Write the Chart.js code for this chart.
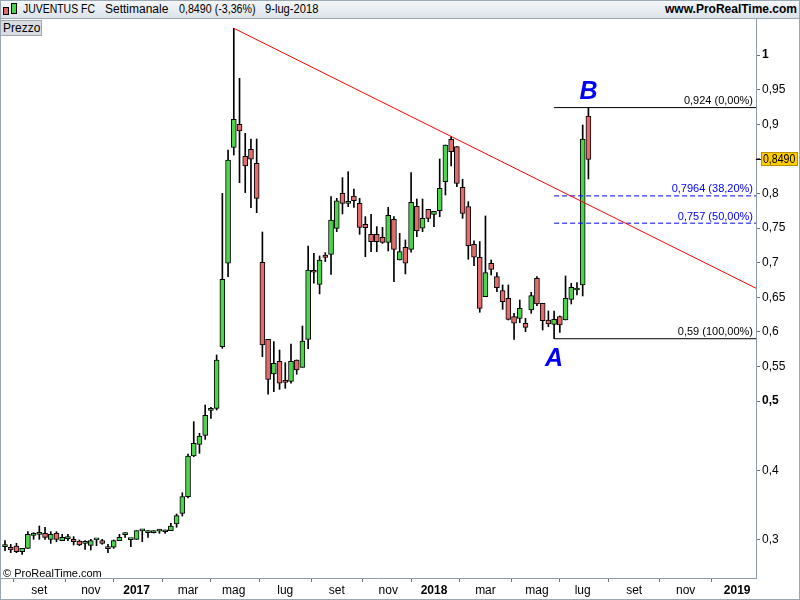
<!DOCTYPE html>
<html>
<head>
<meta charset="utf-8">
<script src="https://cdn.jsdelivr.net/npm/chart.js@4.4.1/dist/chart.umd.min.js"></script>
<style>
  html,body{margin:0;padding:0;background:#fff;}
  #wrap{position:relative;width:800px;height:600px;overflow:hidden;font-family:"Liberation Sans",Arial,sans-serif;}
  #c{position:absolute;left:0;top:0;}
  #hdr{position:absolute;left:0;top:0;width:800px;height:18px;background:linear-gradient(#f6f8fa,#dbe3ea);border-bottom:1px solid #9aa8b4;font-size:12px;color:#000;}
  #hdr span{position:absolute;top:2px;white-space:nowrap;transform-origin:left center;}
  .ic{position:absolute;width:4px;border:1px solid #000;}
  #prezzo{position:absolute;left:0;top:20px;width:38px;height:14px;background:#d9dde1;border:1px solid #a0a8b0;font-size:12px;line-height:14px;padding-left:2px;box-sizing:content-box;}
  #copy{position:absolute;left:3px;top:567px;font-size:11px;color:#000;}
  #frame{position:absolute;left:0;top:0;width:798px;height:598px;border:1px solid #9aa8b4;pointer-events:none;}
</style>
</head>
<body>
<div id="wrap">
  <canvas id="c" width="800" height="600"></canvas>
  <div id="hdr">
    <div class="ic" style="left:3px;top:7px;height:6px;background:#e06868;"></div>
    <div class="ic" style="left:11px;top:3px;height:9px;background:#50d050;"></div>
    <span style="left:23px;transform:scaleX(0.87);">JUVENTUS FC</span>
    <span style="left:105px;">Settimanale</span>
    <span style="left:179px;transform:scaleX(0.89);">0,8490 (-3,36%)</span>
    <span style="left:265px;transform:scaleX(0.93);">9-lug-2018</span>
    <span style="left:665px;font-weight:bold;">www.ProRealTime.com</span>
  </div>
  <div id="prezzo">Prezzo</div>
  <div id="copy">© ProRealTime.com</div>
  <div id="frame"></div>
</div>
<script>
// weekly candles, from 25-lug-2016 to 9-lug-2018 (index = week number)
const opens = [
  .2895,.2886,.2905,.2823,.2871,.3059,.3073,.3088,.3001,.3088,
  .2982,.3011,.3001,.2977,.2943,.2914,.2992,.2982,.2895,.2886,
  .2982,.3070,.2997,.3001,.3123,.3097,.3097,.3120,.3110,.3126,
  .3223,.3377,.3618,.4205,.4374,.4504,.4865,.4894,.5785,.6990,
  .8666,.8998,.8536,.8637,.8435,.7004,.5891,.5390,.5574,.5285,
  .5284,.5593,.5487,.5891,.6888,.6686,.7110,.7120,.7495,.8001,
  .7857,.7963,.7857,.7553,.7409,.7409,.7366,.7293,.7626,.7038,
  .7221,.7192,.7813,.7496,.7770,.7698,.7751,.8170,.8782,.8676,
  .8088,.7809,.7264,.7076,.6508,.6990,.6797,.6595,.6484,.6219,
  .6195,.6123,.6315,.6773,.6412,.6171,.6108,.6219,.6171,.6469,
  .6604,.6677,.9119
];
const highs = [
  .2982,.2929,.2943,.2871,.3112,.3097,.3194,.3175,.3112,.3112,
  .3073,.3073,.3040,.2992,.2982,.3001,.3001,.3001,.2929,.2992,
  .3073,.3097,.3001,.3126,.3136,.3126,.3126,.3146,.3136,.3232,
  .3367,.3675,.4234,.4702,.4533,.4942,.4909,.5665,.8001,.8627,
  1.0386,.9663,.8868,.8786,.8786,.7442,.5891,.5858,.5737,.5554,
  .5824,.5593,.6084,.7240,.7134,.7096,.7144,.7953,.7929,.8228,
  .8314,.8064,.7929,.7664,.7698,.7520,.7510,.7799,.7664,.7423,
  .7327,.8300,.7919,.7919,.7770,.7741,.8497,.8700,.8820,.8676,
  .8204,.7881,.7313,.7303,.7674,.7038,.6855,.6677,.6677,.6267,
  .6460,.6195,.6571,.6797,.6412,.6301,.6301,.6229,.6807,.6701,
  .6710,.8989,.9240
];
const lows = [
  .2837,.2808,.2808,.2784,.2871,.3001,.3001,.3001,.2943,.2967,
  .2982,.2982,.2919,.2910,.2857,.2847,.2910,.2929,.2808,.2871,
  .2982,.3030,.2895,.3001,.2967,.3030,.3092,.3088,.3088,.3126,
  .3175,.3338,.3600,.4196,.4244,.4446,.4750,.4870,.5761,.6797,
  .8555,.8155,.8011,.7794,.7722,.5641,.5097,.5135,.5169,.5183,
  .5256,.5386,.5487,.5757,.6701,.6547,.7014,.6831,.7447,.7703,
  .7809,.7799,.7409,.7086,.7158,.7158,.7279,.7168,.6725,.7038,
  .6836,.7149,.7375,.7447,.7592,.7520,.7664,.7977,.8396,.8098,
  .7640,.7048,.6956,.6282,.6508,.6821,.6580,.6325,.6171,.5891,
  .6132,.6002,.6267,.6378,.6026,.6074,.5900,.5992,.6171,.6402,
  .6532,.6518,.8208
];
const closes = [
  .2900,.2847,.2823,.2871,.3073,.3064,.3078,.3030,.3073,.3001,
  .3030,.3014,.2967,.2919,.2946,.2982,.2997,.2943,.2866,.2982,
  .3030,.3073,.3001,.3126,.3126,.3100,.3100,.3124,.3112,.3194,
  .3343,.3618,.4205,.4388,.4494,.4793,.4870,.5593,.6758,.8483,
  .9071,.8902,.8396,.8493,.7929,.5809,.5313,.5545,.5256,.5270,
  .5574,.5448,.5867,.6893,.6860,.7038,.7076,.7616,.7891,.7857,
  .7860,.7895,.7510,.7505,.7303,.7303,.7293,.7683,.7192,.7159,
  .6990,.7871,.7457,.7640,.7640,.7741,.8074,.8700,.8603,.8146,
  .7712,.7245,.7077,.6339,.6855,.6903,.6638,.6436,.6180,.6123,
  .6339,.6065,.6522,.6402,.6161,.6113,.6180,.6099,.6484,.6643,
  .6608,.8785,.8490
];

// x axis: first weekly bar of every other month
const xTickIdx = [6, 15, 23, 32, 40, 49, 58, 67, 75, 84, 93, 101, 110, 119, 128];
const xTickLabels = ['set','nov','2017','mar','mag','lug','set','nov','2018','mar','mag','lug','set','nov','2019'];
const yTickValues = [1, 0.95, 0.9, 0.85, 0.8, 0.75, 0.7, 0.65, 0.6, 0.55, 0.5, 0.4, 0.3];

// trendline (from the May 2017 high) and Fibonacci A-B levels
const trendX = [40, 131.3];
const trendY = [1.0386, 0.6630];
const fibX = [96, 131.3];
const fibLevels = [0.924, 0.7964, 0.757, 0.59];
const fibText = ['0,924 (0,00%)', '0,7964 (38,20%)', '0,757 (50,00%)', '0,59 (100,00%)'];
const lastClose = 0.8490;

const GREEN = '#50d250', RED = '#e06c6c', BLUE = '#0000ff';
const FONT = '"Liberation Sans", Arial, sans-serif';

const wicks = highs.map((h,i)=>({x:i, y:[lows[i], h]}));
const bodies = opens.map((o,i)=>({x:i, y:[Math.min(o,closes[i]), Math.max(o,closes[i])]}));
const bodyColors = opens.map((o,i)=> closes[i] >= o ? GREEN : RED);

const fibSets = fibLevels.map((lv,k)=>({
  type:'line',
  data: fibX.map(x=>({x, y:lv})),
  borderColor: (k===1||k===2) ? BLUE : '#000',
  borderDash: (k===1||k===2) ? [5,3] : [],
  borderWidth: 1, pointRadius: 0, order: -2
}));

const annot = {
  id:'annot',
  afterDatasetsDraw(chart){
    const {ctx, chartArea:a, scales:{x, y}} = chart;
    ctx.save();
    ctx.font = '11px ' + FONT;
    ctx.textAlign = 'right'; ctx.textBaseline = 'bottom';
    fibLevels.forEach((lv,k)=>{
      ctx.fillStyle = (k===1||k===2) ? BLUE : '#000';
      ctx.fillText(fibText[k], a.right - 3, y.getPixelForValue(lv) - 1);
    });
    ctx.font = 'italic bold 25px ' + FONT;
    ctx.fillStyle = BLUE;
    ctx.textAlign = 'center';
    ctx.fillText('B', x.getPixelForValue(102), y.getPixelForValue(fibLevels[0]) - 3);
    ctx.textBaseline = 'top';
    ctx.fillText('A', x.getPixelForValue(96), y.getPixelForValue(fibLevels[3]) + 8);
    ctx.restore();
  },
  afterDraw(chart){
    const {ctx, chartArea:a, scales:{y}} = chart;
    const py = Math.round(y.getPixelForValue(lastClose));
    ctx.save();
    ctx.fillStyle = '#000';
    ctx.fillRect(a.right, py, 5, 1);
    ctx.fillStyle = '#ffcc00';
    ctx.fillRect(a.right + 5, py - 7, 37, 14);
    ctx.strokeStyle = '#b89400';
    ctx.strokeRect(a.right + 5.5, py - 6.5, 36, 13);
    ctx.fillStyle = '#000';
    ctx.font = '12px ' + FONT;
    ctx.textBaseline = 'middle';
    ctx.translate(a.right + 7, py + 1);
    ctx.scale(0.88, 1);
    ctx.fillText('0,8490', 0, 0);
    ctx.restore();
  }
};

new Chart(document.getElementById('c'), {
  type:'bar',
  data:{
    datasets:[
      {type:'line', data: trendX.map((x,i)=>({x, y:trendY[i]})), borderColor:'#ff0000', borderWidth:1, pointRadius:0, order:-3},
      ...fibSets,
      {data: bodies, backgroundColor: bodyColors, borderColor:'#000', borderWidth:1, borderSkipped:false,
       barThickness:5, minBarLength:2, grouped:false, order:0},
      {data: wicks, backgroundColor:'#000', borderWidth:0, barThickness:1, grouped:false, order:1}
    ]
  },
  options:{
    responsive:false, animation:false, devicePixelRatio:1,
    layout:{padding:{top:18, left:0, right:0, bottom:0}},
    plugins:{legend:{display:false}, tooltip:{enabled:false}},
    scales:{
      x:{
        type:'linear', min:-0.875, max:131.3, offset:false,
        afterBuildTicks: s => { s.ticks = xTickIdx.map(v=>({value:v})); },
        afterFit: s => { s.height = 22; },
        grid:{drawOnChartArea:false, drawTicks:true, tickLength:4, color:'#707070'},
        border:{display:true, color:'#8e9ca8'},
        ticks:{
          autoSkip:false, maxRotation:0, padding:1, color:'#000',
          callback: v => xTickLabels[xTickIdx.indexOf(v)] || '',
          font: c => ({family:FONT, size:12, weight: /^\d/.test(xTickLabels[c.index]||'') ? 'bold' : 'normal'})
        }
      },
      y:{
        type:'linear', position:'right', min:0.24422, max:1.05347,
        afterBuildTicks: s => { s.ticks = yTickValues.map(v=>({value:v})); },
        afterFit: s => { s.width = 44; },
        grid:{drawOnChartArea:false, drawTicks:true, tickLength:4, color:'#707070'},
        border:{display:true, color:'#8e9ca8'},
        ticks:{
          autoSkip:false, padding:2, color:'#000',
          callback: v => String(v).replace('.', ','),
          font: c => ({family:FONT, size:12, weight: (c.tick && (c.tick.value===1 || c.tick.value===0.5)) ? 'bold' : 'normal'})
        }
      }
    }
  },
  plugins:[annot]
});
</script>
</body>
</html>
